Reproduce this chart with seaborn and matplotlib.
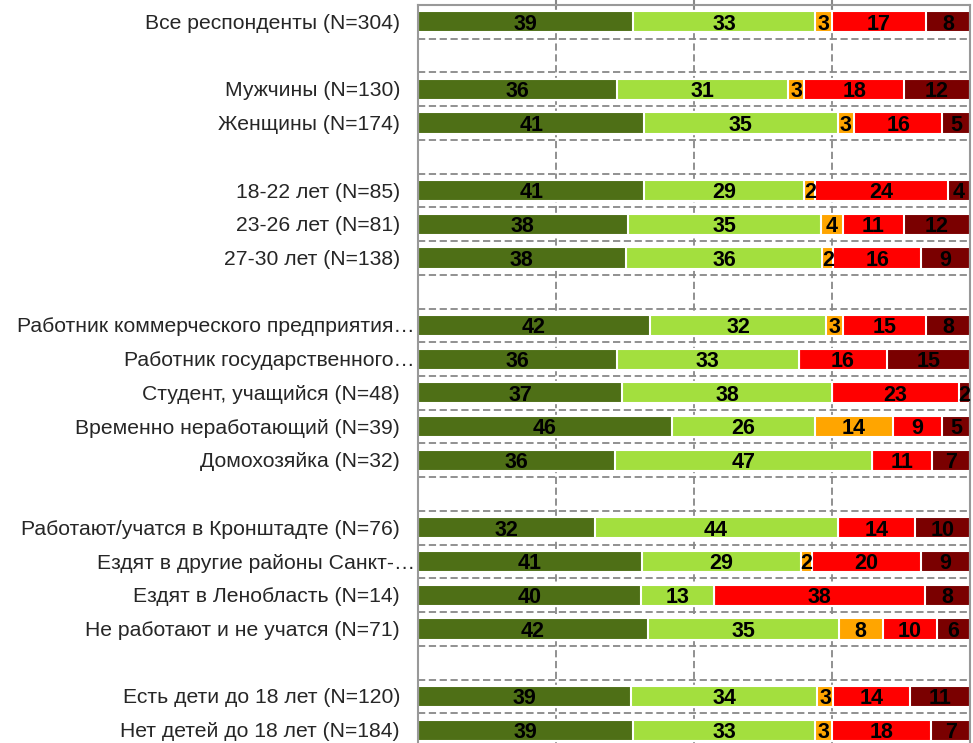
import pandas as pd
import matplotlib
matplotlib.use('Agg')
import matplotlib.pyplot as plt
import matplotlib.transforms as mtransforms
import seaborn as sns
import numpy as np

# rows of the chart ("" = empty separator row)
labels = ['Все респонденты (N=304)', '',
          'Мужчины (N=130)', 'Женщины (N=174)', '',
          '18-22 лет (N=85)', '23-26 лет (N=81)', '27-30 лет (N=138)', '',
          'Работник коммерческого предприятия…', 'Работник государственного…',
          'Студент, учащийся (N=48)', 'Временно неработающий (N=39)', 'Домохозяйка (N=32)', '',
          'Работают/учатся в Кронштадте (N=76)', 'Ездят в другие районы Санкт-…',
          'Ездят в Ленобласть (N=14)', 'Не работают и не учатся (N=71)', '',
          'Есть дети до 18 лет (N=120)', 'Нет детей до 18 лет (N=184)']

s1 = [39, None, 36, 41, None, 41, 38, 38, None, 42, 36, 37, 46, 36, None, 32, 41, 40, 42, None, 39, 39]
s2 = [33, None, 31, 35, None, 29, 35, 36, None, 32, 33, 38, 26, 47, None, 44, 29, 13, 35, None, 34, 33]
s3 = [3, None, 3, 3, None, 2, 4, 2, None, 3, 0, 0, 14, 0, None, 0, 2, 0, 8, None, 3, 3]
s4 = [17, None, 18, 16, None, 24, 11, 16, None, 15, 16, 23, 9, 11, None, 14, 20, 38, 10, None, 14, 18]
s5 = [8, None, 12, 5, None, 4, 12, 9, None, 8, 15, 2, 5, 7, None, 10, 9, 8, 6, None, 11, 7]

colors = ['#4e6f16', '#a3df3e', '#ffa500', '#ff0000', '#7a0000']

keys = ['r%02d' % i for i in range(len(labels))]
df = pd.DataFrame({'row': keys, 's1': s1, 's2': s2, 's3': s3, 's4': s4, 's5': s5})
cols = ['s1', 's2', 's3', 's4', 's5']
vals = df[cols].astype(float)
tot = vals.sum(axis=1)
pct = vals.div(tot, axis=0) * 100
cum = pct.cumsum(axis=1)

sns.set_style('white')
plt.rcParams['font.family'] = ['Liberation Sans', 'DejaVu Sans']

fig = plt.figure(figsize=(9.73, 7.43), dpi=100)
ax = fig.add_axes([418 / 973, 1 - 747 / 743, 552 / 973, 742 / 743])

for i in range(4, -1, -1):
    d = pd.DataFrame({'row': keys, 'x': cum[cols[i]]})
    sns.barplot(data=d, x='x', y='row', order=keys, orient='h', color=colors[i],
                width=0.63, edgecolor='white', linewidth=1.5, saturation=1, ax=ax)

for r in range(len(keys)):
    for i, c in enumerate(cols):
        v = vals.loc[r, c]
        if pd.isna(v) or v == 0:
            continue
        xc = cum.loc[r, c] - pct.loc[r, c] / 2
        ax.text(xc, r + 0.23, '%d' % v, ha='center', va='baseline', fontsize=15.5,
                fontweight='bold', color='black')

# row labels; truncated ones run up to the axis line
ytrans = mtransforms.blended_transform_factory(ax.transAxes, ax.transData)
for r, lab in enumerate(labels):
    if not lab:
        continue
    off = -3 if lab.endswith('…') else -18
    t = ytrans + mtransforms.ScaledTranslation(off / 100, 0, fig.dpi_scale_trans)
    ax.text(0, r + 0.21, lab, ha='right', va='baseline', fontsize=15.2, transform=t)

ax.set_xlim(0, 100)
ax.set_ylim(len(keys) - 0.5, -0.5)
ax.set_xlabel('')
ax.set_ylabel('')

ax.set_xticks([25, 50, 75])
ax.set_xticklabels([])
ax.set_yticks(range(len(keys)))
ax.set_yticklabels([])
ax.set_yticks(np.arange(0.5, len(keys), 1), minor=True)
ax.tick_params(axis='y', which='major', length=0)
ax.tick_params(axis='y', which='minor', length=7, direction='inout', color='#888888', width=1.5)
ax.tick_params(axis='x', which='major', top=True, bottom=False, length=7,
               direction='inout', color='#888888', width=1.5)

ax.grid(True, axis='x', which='major', color='#888888', linestyle=(0, (4, 2)), linewidth=1.3)
ax.grid(True, axis='y', which='minor', color='#888888', linestyle=(0, (4, 2)), linewidth=1.3)
ax.grid(False, axis='y', which='major')
ax.set_axisbelow(True)

for sp in ax.spines.values():
    sp.set_visible(True)
    sp.set_color('#999999')
    sp.set_linewidth(1.5)

fig.savefig('out.png', dpi=100)
